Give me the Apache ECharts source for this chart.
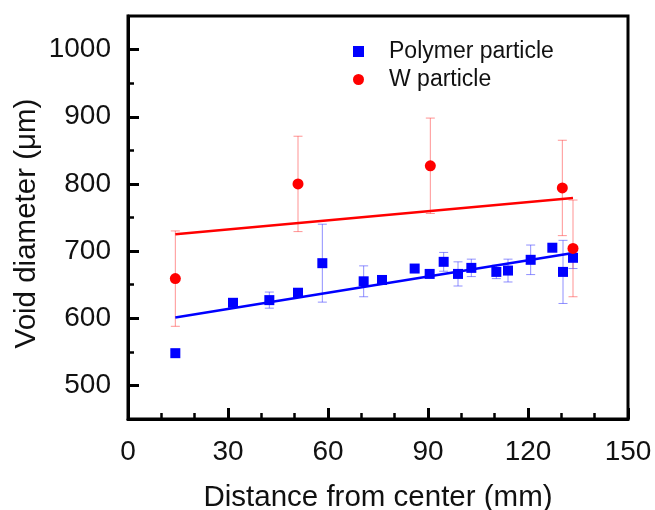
<!DOCTYPE html>
<html>
<head>
<meta charset="utf-8">
<script src="https://cdn.jsdelivr.net/npm/echarts@6/dist/echarts.min.js"></script>
<style>
  html, body { margin: 0; padding: 0; background: #fff; }
  #chart { width: 655px; height: 510px; }
</style>
</head>
<body>
<div id="chart"></div>
<script>
// Polymer particle voids: distance (mm), diameter (µm), error (±µm)
const polymerX   = [14.2, 31.5, 42.4, 51.0, 58.3, 70.7, 76.2, 86.0, 90.5, 94.7, 99.0, 103.0, 110.5, 114.0, 120.8, 127.3, 130.5, 133.5];
const polymerY   = [548, 623, 627, 638, 682, 655, 657, 674, 666, 684, 666, 675, 669, 671, 687, 705, 669, 690];
const polymerErr = [4, 4, 12, 4, 58, 23, 4, 4, 5, 14, 18, 13, 10, 17, 22, 4, 47, 16];

// W particle voids
const wX   = [14.2, 51.0, 90.7, 130.3, 133.5];
const wY   = [659, 800, 827, 794, 704];
const wErr = [71, 71, 71, 71, 72];

// Linear fit end points [distance, diameter]
const polymerFit = [[14.2, 601], [133.5, 697]];
const wFit       = [[14.2, 725], [133.5, 779]];

// Axis ticks
const xTickLabels  = [0, 30, 60, 90, 120, 150];
const yTickLabels  = [500, 600, 700, 800, 900, 1000];
const yMinorTicks  = [550, 650, 750, 850, 950];

const FONT = '"Liberation Sans", Arial, sans-serif';
const BLUE = '#0000ff';
const RED = '#ff0000';
const INK = '#111';

function errorBars(name, xs, ys, errs, color) {
  return {
    type: 'custom',
    name: name,
    silent: true,
    z: 1,
    data: xs.map((x, i) => [x, ys[i] - errs[i], ys[i] + errs[i]]),
    encode: { x: 0, y: [1, 2] },
    renderItem: function (params, api) {
      const lo = api.coord([api.value(0), api.value(1)]);
      const hi = api.coord([api.value(0), api.value(2)]);
      const w = 4.5;
      const style = { stroke: color, lineWidth: 1, fill: null };
      return {
        type: 'group',
        children: [
          { type: 'line', shape: { x1: lo[0], y1: lo[1], x2: hi[0], y2: hi[1] }, style: style },
          { type: 'line', shape: { x1: lo[0] - w, y1: lo[1], x2: lo[0] + w, y2: lo[1] }, style: style },
          { type: 'line', shape: { x1: hi[0] - w, y1: hi[1], x2: hi[0] + w, y2: hi[1] }, style: style }
        ]
      };
    }
  };
}

const plain = v => String(v);

const chart = echarts.init(document.getElementById('chart'), null, { renderer: 'canvas' });

chart.setOption({
  animation: false,
  backgroundColor: '#fff',
  textStyle: { fontFamily: FONT },
  grid: {
    left: 128, right: 27, top: 16, bottom: 91,
    show: true, borderColor: '#000', borderWidth: 3,
    outerBoundsMode: 'none'
  },
  legend: {
    orient: 'vertical',
    left: 348, top: 35,
    itemGap: 5,
    itemWidth: 11, itemHeight: 11,
    textStyle: { fontSize: 23, color: INK, fontFamily: FONT, padding: [0, 0, 0, 20] },
    data: [
      { name: 'Polymer particle', icon: 'rect' },
      { name: 'W particle', icon: 'circle' }
    ]
  },
  xAxis: {
    type: 'value',
    min: 0, max: 150, interval: 30,
    name: 'Distance from center (mm)',
    nameLocation: 'middle',
    nameGap: 64,
    nameMoveOverlap: false,
    nameTextStyle: { fontSize: 29.5, color: INK, fontFamily: FONT },
    axisLine: { show: true, lineStyle: { color: '#000', width: 3 } },
    axisTick: { show: true, inside: true, length: 11, lineStyle: { color: '#000', width: 3 } },
    minorTick: { show: true, splitNumber: 3, length: 6, lineStyle: { color: '#000', width: 2.5 } },
    axisLabel: { fontSize: 28, color: INK, margin: 19, fontFamily: FONT,
      customValues: xTickLabels, formatter: plain },
    splitLine: { show: false }
  },
  yAxis: [
    {
      type: 'value',
      min: 450, max: 1050,
      position: 'left',
      name: 'Void diameter (μm)',
      nameLocation: 'middle',
      nameGap: 86,
      nameMoveOverlap: false,
      nameTextStyle: { fontSize: 29.5, color: INK, fontFamily: FONT, padding: [0, 12, 0, 0] },
      axisLine: { show: true, lineStyle: { color: '#000', width: 3 } },
      axisTick: { show: true, inside: true, length: 11, customValues: yTickLabels,
        lineStyle: { color: '#000', width: 3 } },
      axisLabel: { fontSize: 28, color: INK, margin: 17, fontFamily: FONT,
        customValues: yTickLabels, formatter: plain },
      splitLine: { show: false }
    },
    {
      type: 'value',
      min: 450, max: 1050,
      position: 'left',
      axisLine: { show: false },
      axisTick: { show: true, inside: true, length: 6, customValues: yMinorTicks,
        lineStyle: { color: '#000', width: 2.5 } },
      axisLabel: { show: false },
      splitLine: { show: false }
    }
  ],
  series: [
    errorBars('Polymer particle error', polymerX, polymerY, polymerErr, 'rgba(70,70,255,0.6)'),
    errorBars('W particle error', wX, wY, wErr, 'rgba(255,60,60,0.55)'),
    {
      type: 'line',
      name: 'Polymer fit',
      data: polymerFit,
      showSymbol: false,
      silent: true,
      z: 2,
      lineStyle: { color: BLUE, width: 2.5 },
      itemStyle: { color: BLUE }
    },
    {
      type: 'line',
      name: 'W fit',
      data: wFit,
      showSymbol: false,
      silent: true,
      z: 2,
      lineStyle: { color: RED, width: 2.5 },
      itemStyle: { color: RED }
    },
    {
      type: 'scatter',
      name: 'Polymer particle',
      symbol: 'rect',
      symbolSize: 10,
      z: 3,
      itemStyle: { color: BLUE, opacity: 1 },
      data: polymerX.map((x, i) => [x, polymerY[i]])
    },
    {
      type: 'scatter',
      name: 'W particle',
      symbol: 'circle',
      symbolSize: 11,
      z: 4,
      itemStyle: { color: RED, opacity: 1 },
      data: wX.map((x, i) => [x, wY[i]])
    }
  ]
});
</script>
</body>
</html>
